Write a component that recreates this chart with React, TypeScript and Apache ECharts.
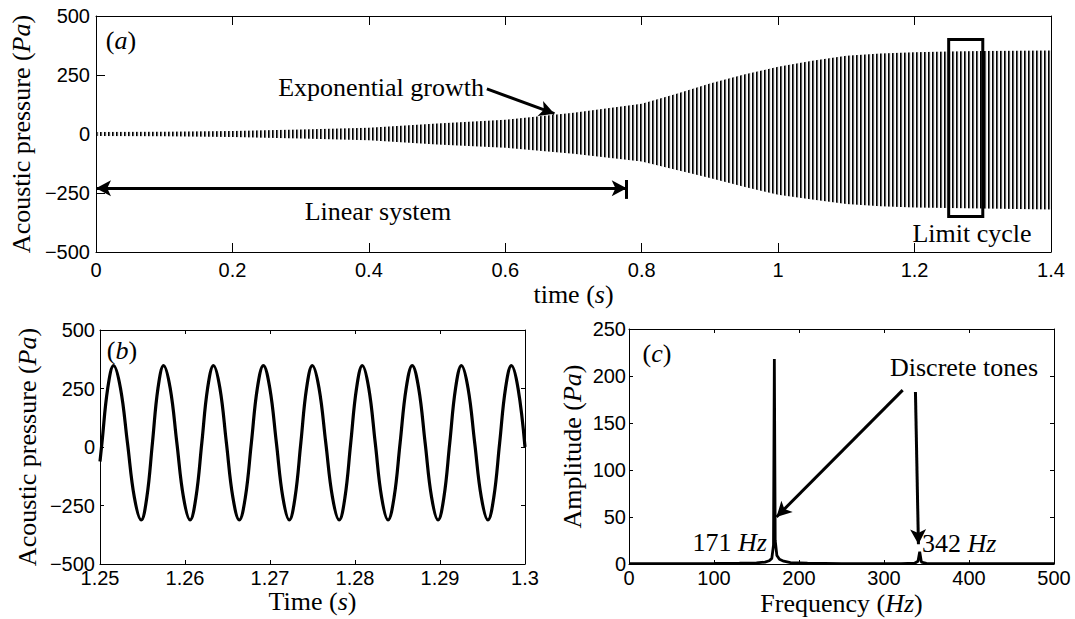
import React, { useEffect, useRef } from 'react';
import * as echarts from 'echarts';

// (a) growth of the acoustic pressure oscillation: upper and lower peak envelope
const growthTime = [0, 0.1, 0.2, 0.3, 0.4, 0.5, 0.6, 0.7, 0.8, 0.85, 0.9, 0.95, 1.0, 1.05, 1.1, 1.15, 1.2, 1.25, 1.3, 1.4];
const growthUpper = [8, 10, 13, 19, 27, 45, 60, 90, 128, 170, 214, 252, 285, 310, 332, 341, 346, 350, 352, 354];
const growthLower = [-8, -10, -13, -19, -27, -45, -58, -84, -117, -152, -186, -224, -257, -278, -297, -306, -311, -314, -316, -320];
const growthTimeTicks = [0, 0.2, 0.4, 0.6, 0.8, 1, 1.2, 1.4];
const pressureTicks = [-500, -250, 0, 250, 500];

// (b) limit cycle window, sampled along each half cycle
const cycleTime = [
  1.25, 1.25023, 1.25091, 1.2516,
  1.25241, 1.25323, 1.25404, 1.25485,
  1.25551, 1.25617, 1.25682, 1.25748,
  1.25826, 1.25904, 1.25982, 1.2606,
  1.26129, 1.26198, 1.26266, 1.26335,
  1.26411, 1.26487, 1.26563, 1.26639,
  1.2671, 1.26781, 1.26851, 1.26922,
  1.26998, 1.27075, 1.27151, 1.27227,
  1.27295, 1.27363, 1.2743, 1.27498,
  1.27577, 1.27656, 1.27735, 1.27814,
  1.27882, 1.2795, 1.28018, 1.28086,
  1.28162, 1.28238, 1.28313, 1.28389,
  1.2846, 1.28531, 1.28602, 1.28673,
  1.28749, 1.28825, 1.28901, 1.28977,
  1.29046, 1.29115, 1.29183, 1.29252,
  1.2933, 1.29408, 1.29486, 1.29564,
  1.29633, 1.29702, 1.29771, 1.2984,
  1.29918, 1.3,
];
const cyclePressure = [
  -62, 18, 251, 348,
  251, 18, -215, -312,
  -215, 18, 251, 348,
  251, 18, -215, -312,
  -215, 18, 251, 348,
  251, 18, -215, -312,
  -215, 18, 251, 348,
  251, 18, -215, -312,
  -215, 18, 251, 348,
  251, 18, -215, -312,
  -215, 18, 251, 348,
  251, 18, -215, -312,
  -215, 18, 251, 348,
  251, 18, -215, -312,
  -215, 18, 251, 348,
  251, 18, -215, -312,
  -215, 18, 251, 348,
  251, 0,
];
const cycleTimeTicks = [1.25, 1.26, 1.27, 1.28, 1.29, 1.3];

// (c) amplitude spectrum
const spectrumFreq = [0, 50, 100, 130, 150, 160, 165, 168, 170, 171, 172, 174, 177, 182, 190, 210, 250, 320, 336, 340, 342, 344, 350, 400, 500];
const spectrumAmp = [0.4, 0.5, 0.6, 0.8, 1.2, 2, 3.5, 6, 20, 218, 25, 9, 5, 3, 1.5, 0.8, 0.5, 0.5, 0.8, 3, 13, 2, 0.7, 0.4, 0.3];
const freqTicks = [0, 100, 200, 300, 400, 500];
const ampTicks = [0, 50, 100, 150, 200, 250];
const toneFreqs = [171, 342];

const SANS = 'Liberation Sans';
const SERIF = 'Liberation Serif';
const SERIF_SIZE = 26;
const INK = '#000';

const minusFmt = (v: number) => (v < 0 ? '\u2212' + Math.abs(v) : String(v));
const trimFmt = (v: number) => String(Math.round(v * 1000) / 1000);

const nameStyle = {
  fontFamily: SERIF,
  fontSize: SERIF_SIZE,
  color: INK,
  rich: { i: { fontFamily: SERIF, fontSize: SERIF_SIZE, fontStyle: 'italic', color: INK } },
};

function axis(
  kind: 'x' | 'y',
  gridIndex: number,
  ticks: number[],
  main: boolean,
  tickLen: number,
  labelMargin: number,
  fmt: (v: number) => string,
  name?: string,
  nameGap?: number,
) {
  return {
    type: 'value',
    gridIndex,
    position: kind === 'x' ? (main ? 'bottom' : 'top') : main ? 'left' : 'right',
    min: ticks[0],
    max: ticks[ticks.length - 1],
    interval: ticks[1] - ticks[0],
    axisLine: { show: true, onZero: false, lineStyle: { color: INK, width: 1 } },
    axisTick: { show: true, inside: true, length: tickLen, lineStyle: { color: INK, width: 1 } },
    axisLabel: {
      show: main,
      margin: labelMargin,
      color: INK,
      fontFamily: SANS,
      fontSize: 20,
      formatter: fmt,
      showMinLabel: true,
      showMaxLabel: true,
    },
    splitLine: { show: false },
    name: main ? name : undefined,
    nameLocation: 'middle',
    nameGap,
    nameTextStyle: nameStyle,
  };
}

function label(x: number, y: number, text: string, align: string = 'center') {
  return {
    type: 'text',
    x,
    y,
    silent: true,
    style: {
      text,
      fill: INK,
      fontFamily: SERIF,
      fontSize: SERIF_SIZE,
      align,
      verticalAlign: 'middle',
      textAlign: align,
      textVerticalAlign: 'middle',
      rich: { i: { fontFamily: SERIF, fontSize: SERIF_SIZE, fontStyle: 'italic', fill: INK } },
    },
  };
}

export default function App() {
  const ref = useRef<HTMLDivElement>(null);

  useEffect(() => {
    const el = ref.current;
    if (!el) return;
    const chart = echarts.init(el, undefined, { renderer: 'svg' });

    // dense oscillation drawn as a vertical stripe fill (one stripe per cycle)
    const tile = document.createElement('canvas');
    tile.width = 4;
    tile.height = 4;
    const g = tile.getContext('2d');
    if (g) {
      g.fillStyle = '#ffffff';
      g.fillRect(0, 0, 4, 4);
      g.fillStyle = '#000000';
      g.fillRect(0, 0, 1, 4);
      g.fillStyle = '#5a5a5a';
      g.fillRect(1, 0, 1, 4);
      g.fillStyle = '#e6e6e6';
      g.fillRect(2, 0, 1, 4);
    }
    const stripes = { image: tile.toDataURL(), repeat: 'repeat', imageWidth: 4, imageHeight: 4 };

    const cycleData = cycleTime.map((t, i) => [t, cyclePressure[i]]);
    const spectrumData = spectrumFreq.map((f, i) => [f, spectrumAmp[i]]);

    const arrowLine = { color: INK, width: 3, type: 'solid' };

    const option = {
      animation: false,
      backgroundColor: '#ffffff',
      grid: [
        { left: 96, right: 24, top: 16, height: 236 },
        { left: 100, right: 550, top: 330, height: 234 },
        { left: 629, right: 21, top: 329, height: 235 },
      ],
      xAxis: [
        axis('x', 0, growthTimeTicks, true, 9, 8, trimFmt, 'time ({i|s})', 29),
        axis('x', 0, growthTimeTicks, false, 9, 8, trimFmt),
        axis('x', 1, cycleTimeTicks, true, 4, 4, trimFmt, 'Time ({i|s})', 24),
        axis('x', 1, cycleTimeTicks, false, 4, 4, trimFmt),
        axis('x', 2, freqTicks, true, 4, 4, trimFmt, 'Frequency ({i|Hz})', 26),
        axis('x', 2, freqTicks, false, 4, 4, trimFmt),
      ],
      yAxis: [
        axis('y', 0, pressureTicks, true, 9, 6, minusFmt, 'Acoustic pressure ({i|Pa})', 61),
        axis('y', 0, pressureTicks, false, 9, 6, minusFmt),
        axis('y', 1, pressureTicks, true, 4, 5, minusFmt, 'Acoustic pressure ({i|Pa})', 60),
        axis('y', 1, pressureTicks, false, 4, 5, minusFmt),
        axis('y', 2, ampTicks, true, 4, 3, minusFmt, 'Amplitude ({i|Pa})', 44),
        axis('y', 2, ampTicks, false, 4, 3, minusFmt),
      ],
      series: [
        {
          // band between the upper and lower envelopes, filled with stripes
          type: 'custom',
          xAxisIndex: 0,
          yAxisIndex: 0,
          data: [[growthTime[0], 0]],
          silent: true,
          clip: true,
          z: 2,
          renderItem: (_params: any, api: any) => {
            const top = growthTime.map((t, i) => api.coord([t, growthUpper[i]]));
            const bottom = growthTime.map((t, i) => api.coord([t, growthLower[i]])).reverse();
            return {
              type: 'polygon',
              shape: { points: top.concat(bottom) },
              style: { fill: stripes, stroke: null },
            };
          },
        },
        {
          // annotations of panel (a), drawn above the band
          type: 'line',
          xAxisIndex: 0,
          yAxisIndex: 0,
          data: [],
          silent: true,
          z: 10,
          markLine: {
            silent: true,
            animation: false,
            z: 10,
            label: { show: false },
            lineStyle: arrowLine,
            symbolSize: [12, 15],
            data: [
              [{ coord: [0.573, 191], symbol: 'none' }, { coord: [0.672, 86], symbol: 'arrow' }],
              [{ coord: [0, -230], symbol: 'arrow' }, { coord: [0.778, -230], symbol: 'arrow' }],
              [{ coord: [0.778, -195], symbol: 'none' }, { coord: [0.778, -275], symbol: 'none' }],
            ],
          },
          markArea: {
            silent: true,
            z: 10,
            itemStyle: { color: 'rgba(0,0,0,0)', borderColor: INK, borderWidth: 3 },
            data: [[{ coord: [cycleTimeTicks[0], 400] }, { coord: [cycleTimeTicks[cycleTimeTicks.length - 1], -350] }]],
          },
        },
        {
          type: 'line',
          xAxisIndex: 2,
          yAxisIndex: 2,
          data: cycleData,
          smooth: 0.4,
          showSymbol: false,
          symbol: 'none',
          silent: true,
          lineStyle: { color: INK, width: 3.2 },
        },
        {
          type: 'line',
          xAxisIndex: 4,
          yAxisIndex: 4,
          data: spectrumData,
          showSymbol: false,
          symbol: 'none',
          silent: true,
          lineStyle: { color: INK, width: 2.8 },
          markLine: {
            silent: true,
            animation: false,
            label: { show: false },
            lineStyle: arrowLine,
            symbolSize: [12, 15],
            data: [
              [{ coord: [322, 185], symbol: 'none' }, { coord: [toneFreqs[0] + 2.5, 50], symbol: 'arrow' }],
              [{ coord: [337, 183], symbol: 'none' }, { coord: [toneFreqs[1] - 1.5, 21], symbol: 'arrow' }],
            ],
          },
        },
      ],
      graphic: [
        label(121, 40, '({i|a})'),
        label(484, 87, 'Exponential growth', 'right'),
        label(378, 211, 'Linear system'),
        label(972, 233, 'Limit cycle'),
        label(122, 350, '({i|b})'),
        label(657, 353, '({i|c})'),
        label(964, 367, 'Discrete tones'),
        label(767, 542, toneFreqs[0] + ' {i|Hz}', 'right'),
        label(922, 543, toneFreqs[1] + ' {i|Hz}', 'left'),
      ],
    };

    chart.setOption(option as any);
    return () => chart.dispose();
  }, []);

  return (
    <div
      ref={ref}
      style={{ position: 'absolute', left: 0, top: 0, width: 1075, height: 619, background: '#fff' }}
    />
  );
}
